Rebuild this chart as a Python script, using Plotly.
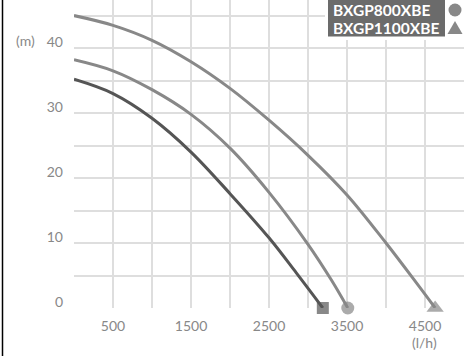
import plotly.graph_objects as go

# pump curves: flow (l/h) vs head (m)
flow_small = [0, 500, 1000, 1500, 2000, 2500, 2850, 3190]
head_small = [35.2, 33.0, 29.2, 24.0, 17.6, 10.8, 5.4, 0]

flow_800 = [0, 500, 1000, 1500, 2000, 2500, 3000, 3300, 3510]
head_800 = [38.2, 36.5, 33.6, 29.8, 24.6, 17.8, 9.8, 4.3, 0]

flow_1100 = [0, 500, 1000, 1500, 2000, 2500, 3000, 3500, 4000, 4400, 4630]
head_1100 = [45.0, 43.5, 41.2, 37.9, 33.8, 28.9, 23.5, 17.4, 10.0, 3.7, 0]

legend_names = ["BXGP800XBE", "BXGP1100XBE"]

x_ticks = list(range(0, 5001, 500))
x_labels = [str(v) if v in (500, 1500, 2500, 3500, 4500) else "" for v in x_ticks]
y_ticks = list(range(0, 46, 5))
y_labels = [str(v) if v % 10 == 0 else "" for v in y_ticks]

DARK = "#555555"
GREY = "#888888"
GRID = "#dedede"
FONT = "Lato"

W, H = 471, 356
L, R, T, B = 74, 7, 0, 48
PW, PH = W - L - R, H - T - B


def px(x):
    return (x - L) / PW


def py(y):
    return (H - B - y) / PH


def curve(xs, ys, color, symbol, size):
    # marker only on the last point
    sizes = [0] * (len(xs) - 1) + [size]
    return go.Scatter(x=xs, y=ys, mode="lines+markers", line=dict(color=color, width=3, shape="spline"),
                      marker=dict(color=color, symbol=symbol, size=sizes, line=dict(width=0)),
                      cliponaxis=False, showlegend=False, hoverinfo="x+y")


fig = go.Figure()
fig.add_trace(curve(flow_1100, head_1100, GREY, "triangle-up", 15))
fig.add_trace(curve(flow_800, head_800, GREY, "circle", 13))
fig.add_trace(curve(flow_small, head_small, DARK, "square", 12))

shapes = [
    # white area behind the legend
    dict(type="rect", xref="paper", yref="paper", x0=px(325), x1=px(471), y0=py(40), y1=py(0),
         fillcolor="white", line=dict(width=0), layer="above"),
    dict(type="rect", xref="paper", yref="paper", x0=px(328), x1=px(445), y0=py(36.5), y1=py(0),
         fillcolor="#6b6b6b", line=dict(width=0), layer="above"),
    dict(type="circle", xref="paper", yref="paper", x0=px(448.5), x1=px(461.5), y0=py(16.5), y1=py(3.5),
         fillcolor=GREY, line=dict(width=0), layer="above"),
    dict(type="path", xref="paper", yref="paper", layer="above", fillcolor=GREY, line=dict(width=0),
         path="M %f,%f L %f,%f L %f,%f Z" % (px(455), py(21), px(462.5), py(34), px(447.5), py(34))),
    # black rule on the left edge
    dict(type="line", xref="paper", yref="paper", x0=px(2.5), x1=px(2.5), y0=py(H), y1=py(0),
         line=dict(color="black", width=1.5)),
]

annotations = [
    dict(text="<b>%s</b>" % legend_names[0], x=px(331), y=py(10.5)),
    dict(text="<b>%s</b>" % legend_names[1], x=px(331), y=py(27.5)),
]
for a in annotations:
    a.update(xref="paper", yref="paper", xanchor="left", yanchor="middle", showarrow=False,
             font=dict(family=FONT, size=15.5, color="white"))
annotations += [
    dict(text="(m)", x=px(25), y=py(41)),
    dict(text="(l/h)", x=px(424), y=py(343)),
]
for a in annotations[2:]:
    a.update(xref="paper", yref="paper", xanchor="center", yanchor="middle", showarrow=False,
             font=dict(family=FONT, size=14, color=GREY))

fig.update_layout(
    width=W, height=H,
    margin=dict(l=L, r=R, t=T, b=B),
    paper_bgcolor="white", plot_bgcolor="white",
    font=dict(family=FONT, size=14, color=GREY),
    shapes=shapes, annotations=annotations,
    showlegend=False,
)
fig.update_xaxes(range=[0, 5000], tickvals=x_ticks, ticktext=x_labels, showgrid=True,
                 gridcolor=GRID, gridwidth=1.5, zeroline=False, showline=False, ticks="",
                 ticklabelstandoff=8, tickfont=dict(family=FONT, size=14, color=GREY))
fig.update_yaxes(range=[0, 47.4], tickvals=y_ticks, ticktext=y_labels, showgrid=True,
                 gridcolor=GRID, gridwidth=1.5, zeroline=False, showline=False, ticks="",
                 ticklabelstandoff=10, ticklabelshift=-6, tickfont=dict(family=FONT, size=14, color=GREY))

fig.write_html("out.html", config={"displayModeBar": False},
               post_script="document.body.style.margin='0';")
